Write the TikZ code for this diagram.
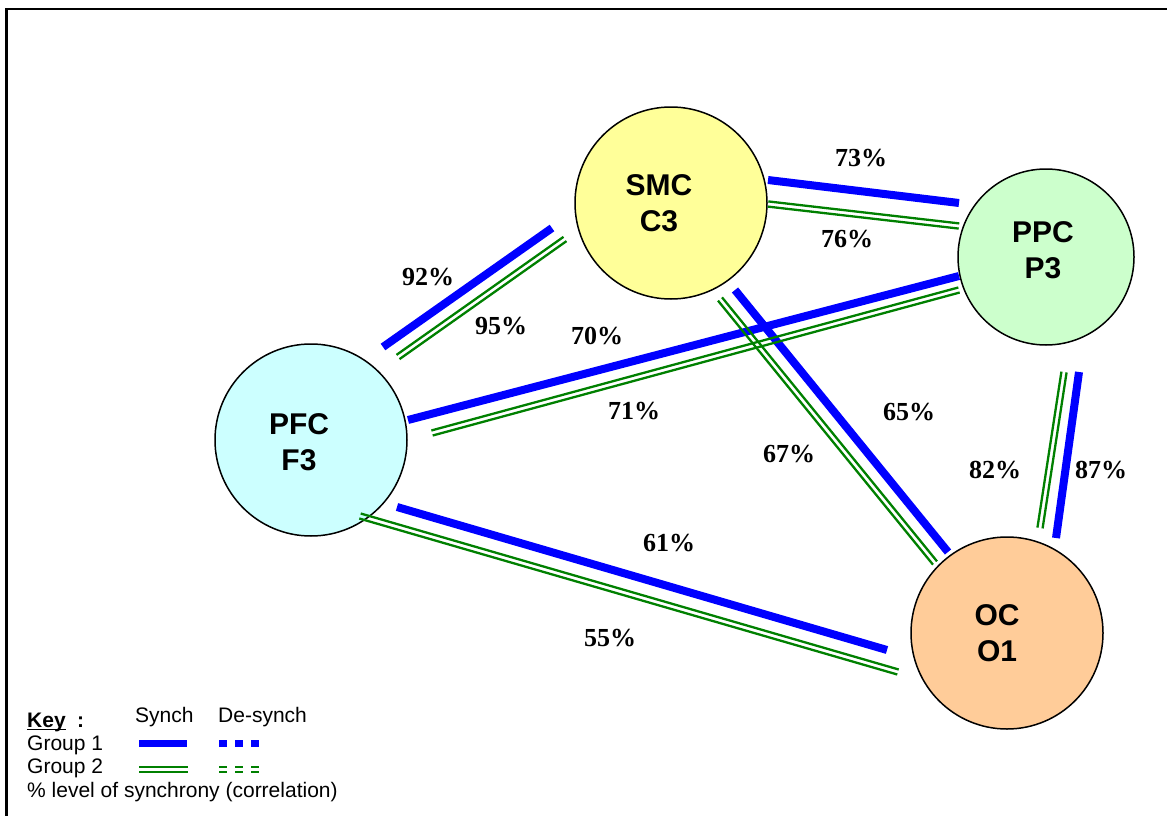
\documentclass[tikz,border=0pt]{standalone}
\usepackage{fontspec}
\setmainfont{Liberation Sans}
\newfontfamily\pctfont{Liberation Serif}
\usetikzlibrary{calc}

\definecolor{smcfill}{HTML}{FFFF99}
\definecolor{ppcfill}{HTML}{CCFFCC}
\definecolor{pfcfill}{HTML}{CCFFFF}
\definecolor{ocfill}{HTML}{FFCC99}
\definecolor{grpgreen}{HTML}{008000}

\tikzset{
  area/.style={circle, draw=black, line width=1.5pt, inner sep=0pt},
  areatext/.style={align=center, font=\bfseries\fontsize{30}{36}\selectfont},
  grpone/.style={draw=blue, line width=8pt},
  grptwo/.style={draw=grpgreen, line width=2.3pt},
  pct/.style={font=\pctfont\bfseries\fontsize{26}{30}\selectfont},
  keytext/.style={anchor=base west, inner sep=0pt, font=\fontsize{21}{24}\selectfont},
}

% group 2 is drawn as two thin parallel strokes
\newcommand{\twoline}[3][]{%
  \coordinate (p) at (#2);
  \coordinate (q) at (#3);
  \draw[grptwo,#1] ($(p)!2.6pt!90:(q)$) -- ($(q)!2.6pt!-90:(p)$);
  \draw[grptwo,#1] ($(p)!2.6pt!-90:(q)$) -- ($(q)!2.6pt!90:(p)$);
}

\begin{document}
\begin{tikzpicture}[x=1pt,y=-1pt]
\useasboundingbox (0,0) rectangle (1167,816);
\clip (0,0) rectangle (1167,816);
% frame (runs off to the right and bottom)
\draw[line width=2.5pt] (1200,8.8) -- (6.3,8.8) -- (6.3,850);

% recording areas
\node[area, minimum size=192pt, fill=smcfill,
  label={[areatext, xshift=-12pt]center:{SMC\\C3}}] (smc) at (671,203) {};
\node[area, minimum size=176pt, fill=ppcfill,
  label={[areatext, xshift=-3pt, yshift=7pt]center:{PPC\\P3}}] (ppc) at (1046,257) {};
\node[area, minimum size=192pt, fill=pfcfill,
  label={[areatext, xshift=-12pt, yshift=-2pt]center:{PFC\\F3}}] (pfc) at (311,440) {};
\node[area, minimum size=192pt, fill=ocfill,
  label={[areatext, xshift=-10pt]center:{OC\\O1}}] (oc) at (1007,633) {};

% group 1 links
\draw[grpone] ($(pfc)+(72,-93)$) -- ($(smc)+(-119,25)$);
\draw[grpone] ($(smc)+(97,-23)$) -- ($(ppc)+(-87,-54)$);
\draw[grpone] ($(pfc)+(97,-20)$) -- ($(ppc)+(-87,19)$);
\draw[grpone] ($(smc)+(64,87)$) -- ($(oc)+(-59,-81)$);
\draw[grpone] ($(ppc)+(33,115)$) -- ($(oc)+(49,-95)$);
\draw[grpone] ($(pfc)+(86,67)$) -- ($(oc)+(-120,17)$);

% group 2 links
\twoline{$(pfc)+(87,-83)$}{$(smc)+(-106,36)$}
\twoline{$(smc)+(97,1)$}{$(ppc)+(-87,-31)$}
\twoline{$(pfc)+(121,-7)$}{$(ppc)+(-87,33)$}
\twoline{$(smc)+(49,96)$}{$(oc)+(-72,-70)$}
\twoline{$(ppc)+(18,115)$}{$(oc)+(33,-105)$}
\twoline{$(pfc)+(49,76)$}{$(oc)+(-109,39)$}

% synchrony values
\node[pct] (p92) at (428,277) {92\%};
\node[pct] (p95) at (501,326) {95\%};
\node[pct] (p73) at (861,158) {73\%};
\node[pct] (p76) at (847,239) {76\%};
\node[pct] (p70) at (597,336) {70\%};
\node[pct] (p71) at (634,411) {71\%};
\node[pct] (p65) at (909,412) {65\%};
\node[pct] (p67) at (789,454) {67\%};
\node[pct] (p82) at (995,470) {82\%};
\node[pct] (p87) at (1101,470) {87\%};
\node[pct] (p61) at (669,543) {61\%};
\node[pct] (p55) at (610,638) {55\%};

% key
\node[keytext] (key) at (27,727) {\textbf{Key}};
\draw[line width=1.6pt] ($(key.base west)+(0,2.6)$) -- ($(key.base east)+(0,2.6)$);
\node[keytext] (keycolon) at (77,727) {\textbf{:}};
\node[keytext] (synch) at (135,722) {Synch};
\node[keytext] (desynch) at (218,722) {De-synch};
\node[keytext] (grp1) at (27,750) {Group 1};
\node[keytext] (grp2) at (27,773) {Group 2};
\node[keytext] (level) at (27,797) {\% level of synchrony (correlation)};
\draw[grpone, line width=7pt] (139,743) -- (187,743);
\draw[grpone, line width=7pt, dash pattern=on 7.5pt off 8.5pt] (219,743) -- (260,743);
\twoline{139,769.5}{188,769.5}
\twoline[dash pattern=on 7.5pt off 8.5pt]{219,769.5}{260,769.5}
\end{tikzpicture}
\end{document}
